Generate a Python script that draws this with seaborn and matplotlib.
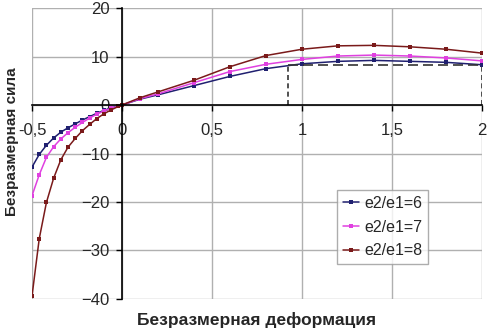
import pandas as pd
import seaborn as sns
import matplotlib.pyplot as plt

# Безразмерная сила vs безразмерная деформация

x_vals = [-0.5, -0.46, -0.42, -0.38, -0.34, -0.30, -0.26, -0.22, -0.18, -0.14, -0.10, -0.06, -0.02,
          0.0, 0.1, 0.2, 0.4, 0.6, 0.8, 1.0, 1.2, 1.4, 1.6, 1.8, 2.0]
sila_6 = [-12.8, -10.2, -8.3, -6.8, -5.6, -4.7, -3.9, -3.1, -2.4, -1.7, -1.1, -0.6, -0.2,
          0.0, 1.2, 2.1, 4.0, 5.9, 7.5, 8.5, 9.0, 9.2, 9.0, 8.8, 8.3]
sila_7 = [-18.7, -14.4, -10.8, -8.6, -7.0, -5.7, -4.6, -3.6, -2.7, -1.9, -1.2, -0.7, -0.2,
          0.0, 1.3, 2.3, 4.6, 6.9, 8.4, 9.4, 10.1, 10.3, 10.1, 9.7, 9.1]
sila_8 = [-39.4, -27.6, -20.1, -15.1, -11.3, -8.7, -6.9, -5.3, -4.0, -2.8, -1.8, -1.0, -0.3,
          0.0, 1.5, 2.7, 5.1, 7.9, 10.2, 11.5, 12.2, 12.3, 12.0, 11.5, 10.7]
series_names = ['e2/e1=6', 'e2/e1=7', 'e2/e1=8']
colors = ['#202070', '#e040e0', '#7a1a1a']

# пунктирная рамка (плато)
box_x = [0.92, 2.0]
box_y = 8.3

x_ticks = [-0.5, 0, 0.5, 1, 1.5, 2]
x_labels = ['-0,5', '0', '0,5', '1', '1,5', '2']
y_ticks = [-40, -30, -20, -10, 0, 10, 20]

df = pd.DataFrame({'x': x_vals * 3,
                   'y': sila_6 + sila_7 + sila_8,
                   'serie': [s for s in series_names for _ in x_vals]})

sns.set_style('white')
plt.rcParams['font.family'] = ['Liberation Sans', 'DejaVu Sans']

fig = plt.figure(figsize=(4.88, 3.31), dpi=100)
ax = fig.add_axes([0.0656, 0.0967, 0.9221, 0.8791])

sns.lineplot(data=df, x='x', y='y', hue='serie', palette=colors, marker='s',
             markersize=2.6, markeredgewidth=0, linewidth=1.1, ax=ax, sort=False,
             estimator=None)

# рамка
ax.plot([box_x[0], box_x[1]], [box_y, box_y], color='#333333', ls=(0, (6, 3)), lw=1.2)
ax.plot([box_x[0], box_x[0]], [0, box_y], color='#333333', ls=(0, (3, 2)), lw=1.2)
ax.plot([box_x[1], box_x[1]], [0, box_y], color='#333333', ls=(0, (3, 2)), lw=1.2)

ax.set_xlim(-0.5, 2)
ax.set_ylim(-40, 20)
ax.set_xticks(x_ticks)
ax.set_xticklabels(x_labels)
ax.set_yticks(y_ticks)
ax.grid(True, color='#b0b0b0', lw=1)
ax.set_axisbelow(True)

ax.spines['left'].set_position(('data', 0))
ax.spines['bottom'].set_position(('data', 0))
ax.spines['top'].set_visible(False)
ax.spines['right'].set_visible(False)
for s in ['left', 'bottom']:
    ax.spines[s].set_color('black')
    ax.spines[s].set_linewidth(1.2)
ax.tick_params(axis='both', direction='out', length=4, width=1, color='black',
               labelsize=12)
ax.tick_params(axis='x', bottom=True, pad=9)
ax.tick_params(axis='y', left=True, pad=5)

ax.set_xlabel('')
ax.set_ylabel('')
fig.text(0.525, 0.01, 'Безразмерная деформация', ha='center', va='bottom',
         fontsize=12.5, fontweight='bold')
fig.text(0.01, 0.572, 'Безразмерная сила', ha='left', va='center', rotation=90,
         fontsize=11, fontweight='bold')

leg = ax.legend(loc='upper left', bbox_to_anchor=(0.678, 0.374), borderaxespad=0,
                fontsize=11.5, frameon=True, fancybox=False, handlelength=1.0,
                handletextpad=0.35, borderpad=0.35, labelspacing=0.55)
leg.get_frame().set_edgecolor('#999999')
leg.get_frame().set_linewidth(1)

fig.savefig('out.png', dpi=100)
